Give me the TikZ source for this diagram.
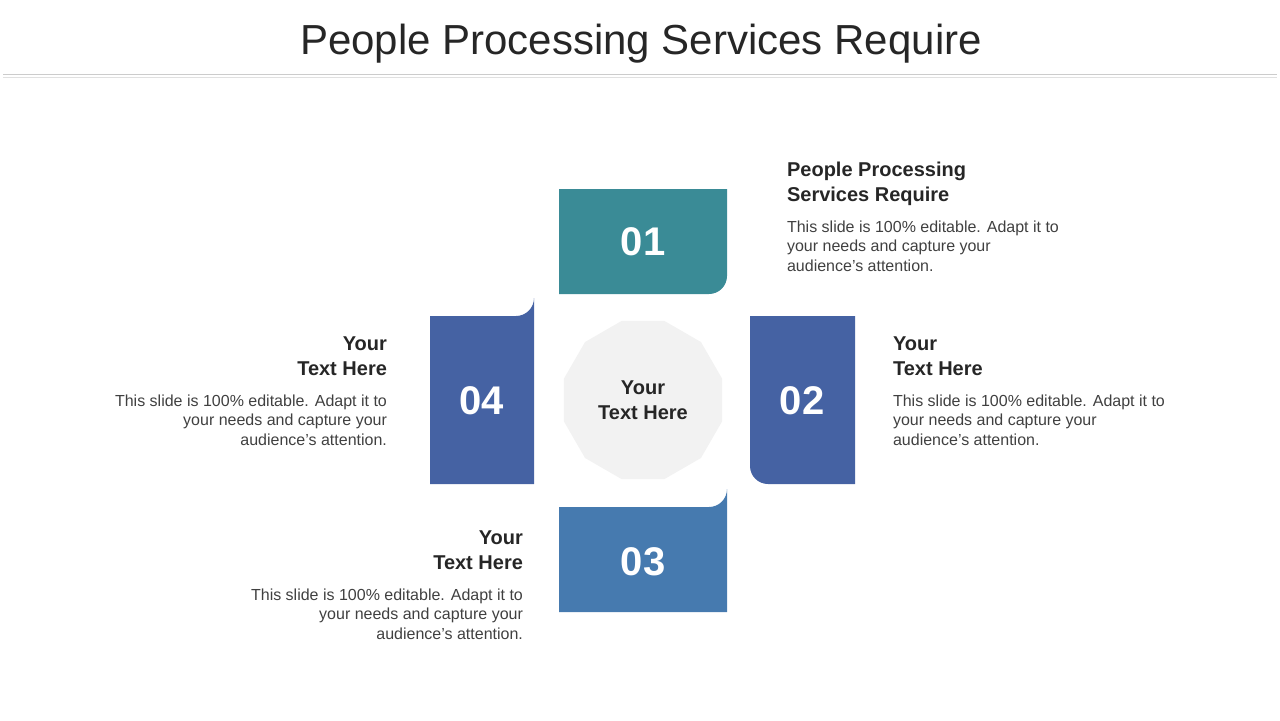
\documentclass[tikz,border=0pt]{standalone}
\usepackage{fontspec}
\setmainfont{Liberation Sans}
\begin{document}
\begin{tikzpicture}[x=0.5pt,y=-0.5pt,
  num/.style={text=white,font=\bfseries\fontsize{20}{20}\selectfont},
  head/.style={font=\bfseries\fontsize{10}{12.5}\selectfont,text=black!85},
  body/.style={font=\fontsize{8}{9.6}\selectfont,text=black!75}]
\useasboundingbox (0,0) rectangle (1280,720);
\node[font=\fontsize{21}{25}\selectfont,text=black!85] (title) at (641,44) {People Processing Services Require};
\draw[black!20,line width=0.8pt] (3,74.5) -- (1277,74.5);
\draw[black!12] (3,77) -- (1277,77);
% boxes
\fill[fill={rgb,255:red,58;green,139;blue,150}] (559,189) -- (727,189) -- (727,276) arc[start angle=0,end angle=90,radius=18] -- (559,294) -- cycle;
\node[num] (n1) at (643,242) {01};
\fill[fill={rgb,255:red,69;green,98;blue,163}] (750,316) -- (855,316) -- (855,484) -- (768,484) arc[start angle=90,end angle=180,radius=18] -- (750,316) -- cycle;
\node[num] (n2) at (802,401) {02};
\fill[fill={rgb,255:red,70;green,122;blue,175}] (559,507) -- (709,507) arc[start angle=90,end angle=0,radius=18] -- (727,612) -- (559,612) -- cycle;
\node[num] (n3) at (643,562) {03};
\fill[fill={rgb,255:red,69;green,98;blue,163}] (430,316) -- (516,316) arc[start angle=90,end angle=0,radius=18] -- (534,484) -- (430,484) -- cycle;
\node[num] (n4) at (482,401) {04};
% center
\begin{scope}[shift={(643,400)}]
\fill[black!5] (15:82) \foreach \a in {45,75,...,345} { -- (\a:82) } -- cycle;
\end{scope}
\node[head,align=center] (c) at (643,400) {Your\\Text Here};
% texts
\node[head,align=left,anchor=north west] (h1) at (780,155) {People Processing\\Services Require};
\node[body,align=left,anchor=north west] (b1) at (780,214) {This slide is 100\% editable. Adapt it to\\your needs and capture your\\audience's attention.};
\node[head,align=left,anchor=north west] (h2) at (886,330) {Your\\Text Here};
\node[body,align=left,anchor=north west] (b2) at (886,388) {This slide is 100\% editable. Adapt it to\\your needs and capture your\\audience's attention.};
\node[head,align=right,anchor=north east] (h4) at (394,330) {Your\\Text Here};
\node[body,align=right,anchor=north east] (b4) at (394,388) {This slide is 100\% editable. Adapt it to\\your needs and capture your\\audience's attention.};
\node[head,align=right,anchor=north east] (h3) at (530,524) {Your\\Text Here};
\node[body,align=right,anchor=north east] (b3) at (530,582) {This slide is 100\% editable. Adapt it to\\your needs and capture your\\audience's attention.};
\end{tikzpicture}
\end{document}
